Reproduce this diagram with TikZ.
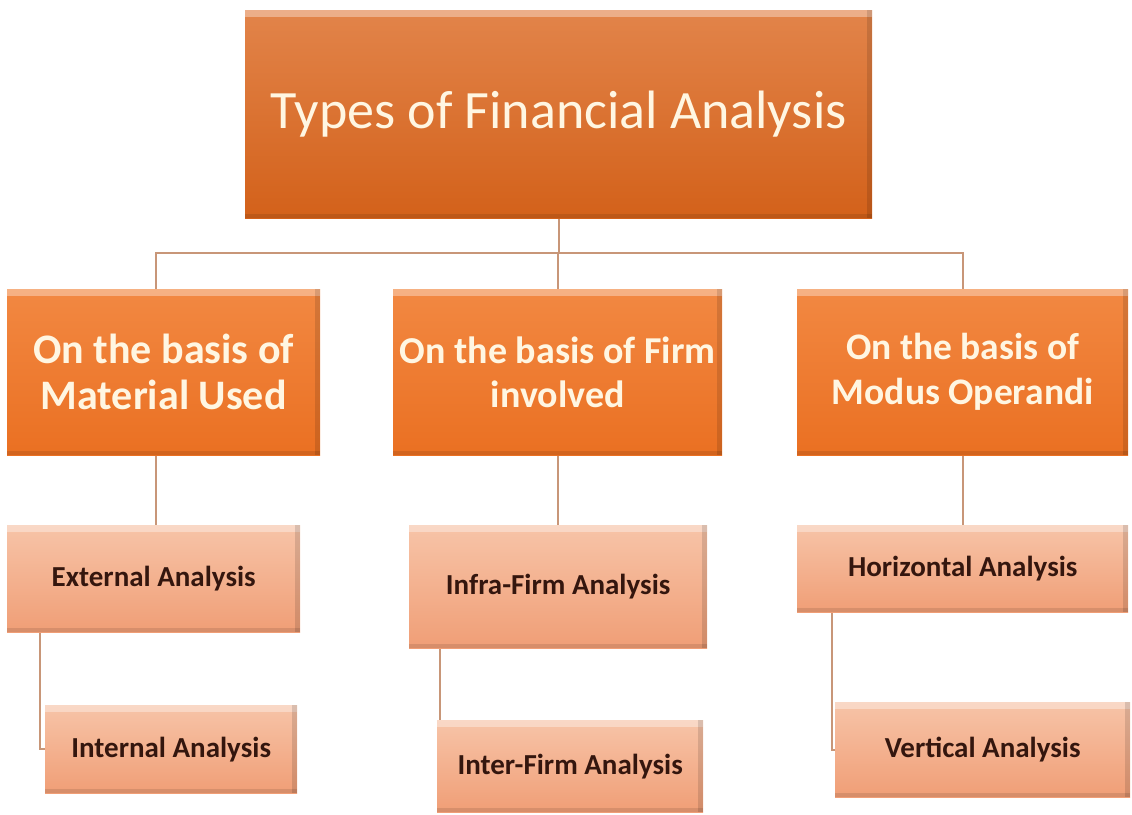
\documentclass[tikz,border=0pt]{standalone}
\usepackage{fontspec}
\setmainfont{Carlito}
\usetikzlibrary{backgrounds}
\definecolor{linec}{RGB}{200,150,120}
\definecolor{toptop}{RGB}{226,132,74}
\definecolor{topbot}{RGB}{211,97,26}
\definecolor{midtop}{RGB}{242,136,66}
\definecolor{midbot}{RGB}{234,112,34}
\definecolor{lowtop}{RGB}{247,196,168}
\definecolor{lowbot}{RGB}{240,158,118}
\definecolor{creamtxt}{RGB}{255,246,226}
\definecolor{darktxt}{RGB}{52,22,14}
\tikzset{
  bevel/.style={path picture={
      \fill[white,opacity=0.35] (path picture bounding box.north west) rectangle ([yshift=-7pt]path picture bounding box.north east);
      \fill[black,opacity=0.12] ([xshift=-5pt]path picture bounding box.north east) rectangle (path picture bounding box.south east);
      \fill[black,opacity=0.10] ([yshift=4pt]path picture bounding box.south west) rectangle (path picture bounding box.south east);
  }},
  topbox/.style={rectangle, anchor=north west, inner sep=0pt, top color=toptop, bottom color=topbot, bevel,
      text=creamtxt, font=\fontsize{54}{60}\selectfont, align=center},
  midbox/.style={rectangle, anchor=north west, inner sep=0pt, top color=midtop, bottom color=midbot, bevel,
      text=creamtxt, font=\bfseries\fontsize{42}{46}\selectfont, align=center},
  lowbox/.style={rectangle, anchor=north west, inner sep=0pt, top color=lowtop, bottom color=lowbot, bevel,
      text=darktxt, font=\bfseries\fontsize{29}{32}\selectfont, align=center},
  conn/.style={draw=linec, line width=2.4pt}
}
\begin{document}
\begin{tikzpicture}[x=1pt,y=-1pt]
\useasboundingbox (0,0) rectangle (1132,814);
% top
\node[topbox, minimum width=627pt, minimum height=208pt] (top) at (245,10) {Types of Financial Analysis};
% level 2
\node[midbox, minimum width=313pt, minimum height=166pt] (A) at (7,289) {On the basis of\\Material Used};
\node[midbox, minimum width=329pt, minimum height=166pt, font=\bfseries\fontsize{38}{44}\selectfont] (B) at (393,289) {On the basis of Firm\\involved};
\node[midbox, minimum width=331pt, minimum height=166pt, font=\bfseries\fontsize{37.5}{45}\selectfont] (C) at (797,289) {On the basis of\\Modus Operandi};
% level 3
\node[lowbox, minimum width=293pt, minimum height=107pt] (A1) at (7,525) {External Analysis};
\node[lowbox, minimum width=252pt, minimum height=88pt] (A2) at (45,705) {Internal Analysis};
\node[lowbox, minimum width=298pt, minimum height=123pt] (B1) at (409,525) {Infra-Firm Analysis};
\node[lowbox, minimum width=266pt, minimum height=92pt] (B2) at (437,720) {Inter-Firm Analysis};
\node[lowbox, minimum width=331pt, minimum height=87pt] (C1) at (797,525) {Horizontal Analysis};
\node[lowbox, minimum width=295pt, minimum height=95pt] (C2) at (835,702) {Vertical Analysis};
\coordinate (bus) at (top.south |- 0,253);
\begin{scope}[on background layer]
\fill[white] (0,0) rectangle (1132,814);
\draw[conn] (top.south) -- (bus);
\draw[conn] (bus) -| ([xshift=-8pt]A.north);
\draw[conn] (bus) -| (B.north);
\draw[conn] (bus) -| (C.north);
\draw[conn] ([xshift=-8pt]A.south) -- ([xshift=-8pt]A.south |- A1.north);
\draw[conn] (B.south) -- (B.south |- B1.north);
\draw[conn] (C.south) -- (C.south |- C1.north);
\draw[conn] ([xshift=33pt]A1.south west) |- (A2.west);
\draw[conn] ([xshift=31pt]B1.south west) |- (B2.west);
\draw[conn] ([xshift=35pt]C1.south west) |- (C2.west);
\end{scope}
\end{tikzpicture}
\end{document}
